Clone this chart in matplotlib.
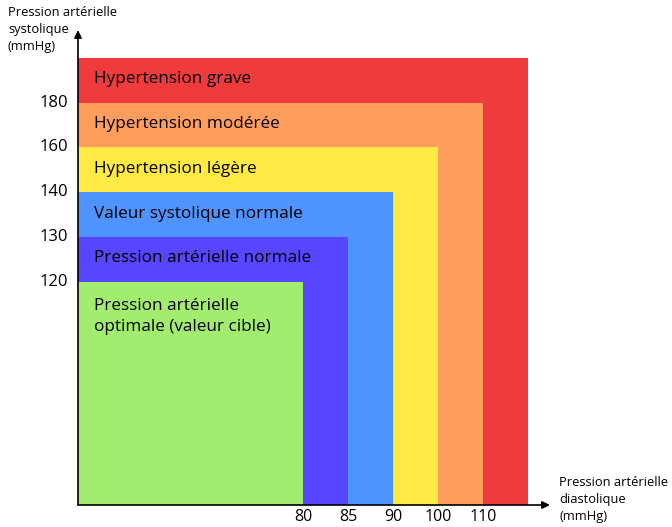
import matplotlib.pyplot as plt
from matplotlib.patches import Rectangle

plt.rcParams['font.family'] = ['Open Sans', 'DejaVu Sans']

# categories, from outer (largest) to inner
labels = ['Hypertension grave', 'Hypertension modérée', 'Hypertension légère',
          'Valeur systolique normale', 'Pression artérielle normale',
          'Pression artérielle\noptimale (valeur cible)']
colors = ['#ef3b3b', '#ff9e5c', '#ffe945', '#4f93ff', '#5745ff', '#a2ec6f']

# tick values (evenly spaced on the chart, not to scale)
diastolic = [80, 85, 90, 100, 110]
systolic = [120, 130, 140, 160, 180]

# band positions: index 5 is the first threshold, 10 the outer edge
n = len(labels)
pos = list(range(5, 5 + len(diastolic) + 1))  # 5..10

fig = plt.figure(figsize=(6.72, 5.27), dpi=100)
ax = fig.add_axes([78/672, 22/527, 472/672, 475/527])
ax.set_xlim(0, 472/45)
ax.set_ylim(0, 475/44.7)

for i in range(n):
    edge = pos[n - 1 - i]
    ax.add_patch(Rectangle((0, 0), edge, edge, facecolor=colors[i], edgecolor='none', zorder=1))

# band labels
for i in range(n - 1):
    top = pos[n - 1 - i]
    ax.text(0.36, top - 0.48, labels[i], fontsize=12.3, va='center', ha='left', zorder=3)
ax.text(0.36, pos[0] - 0.38, labels[-1], fontsize=12.3, va='top', ha='left',
        linespacing=1.4, zorder=3)

# tick labels
for p, v in zip(pos, diastolic):
    ax.text(p, -0.1, str(v), fontsize=11.5, ha='center', va='top', clip_on=False)
for p, v in zip(pos, systolic):
    ax.text(-0.22, p, str(v), fontsize=12, ha='right', va='center', clip_on=False)

ax.set_xticks([])
ax.set_yticks([])
for s in ax.spines.values():
    s.set_visible(False)

# axes with arrows
ax.annotate('', xy=(472/45, 0), xytext=(0, 0), annotation_clip=False,
            arrowprops=dict(arrowstyle='-|>,head_length=0.45,head_width=0.22', lw=1.2,
                            color='black', shrinkA=0, shrinkB=0), zorder=4)
ax.annotate('', xy=(0, 475/44.7), xytext=(0, 0), annotation_clip=False,
            arrowprops=dict(arrowstyle='-|>,head_length=0.45,head_width=0.22', lw=1.2,
                            color='black', shrinkA=0, shrinkB=0), zorder=4)

fig.text(8/672, 1 - 6/527, 'Pression artérielle\nsystolique\n(mmHg)', fontsize=9.3,
         ha='left', va='top', linespacing=1.4)
fig.text(559/672, 1 - 476/527, 'Pression artérielle\ndiastolique\n(mmHg)', fontsize=9.3,
         ha='left', va='top', linespacing=1.4)

fig.savefig('out.png', dpi=100)
